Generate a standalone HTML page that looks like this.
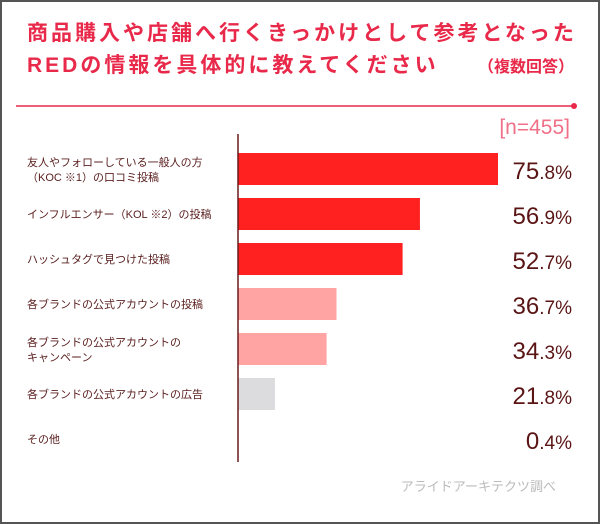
<!DOCTYPE html>
<html><head><meta charset="utf-8"><style>
body{margin:0;background:#fff;font-family:"Liberation Sans","Noto Sans CJK JP",sans-serif}
#wrap{position:relative;width:596px;height:520px;border:2px solid #555;overflow:hidden}
.t{position:absolute;color:#e8294a;font-weight:bold;font-size:21px;letter-spacing:3px;white-space:nowrap}
</style></head><body>
<div id="wrap">
<div class="t" style="left:25px;top:15px">商品購入や店舗へ行くきっかけとして参考となった</div>
<div class="t" style="left:25px;top:47px">REDの情報を具体的に教えてください</div>
<div class="t" style="left:476px;top:51px;font-size:16px;letter-spacing:0">（複数回答）</div>
<svg width="596" height="520" style="position:absolute;left:0;top:0" id="svg">
<line x1="14" y1="104" x2="572" y2="104" stroke="#e8294a" stroke-width="1.5"/>
<circle cx="572" cy="104" r="3" fill="#e8294a"/>
<text x="568" y="132" text-anchor="end" font-size="21" fill="#f07088" font-family="Liberation Sans, sans-serif">[n=455]</text>
<text x="554" y="489" text-anchor="end" font-size="13" fill="#bbb" font-family="Liberation Sans, Noto Sans CJK JP, sans-serif">アライドアーキテクツ調べ</text>
</svg>
</div>
<script>
const categories=[["友人やフォローしている一般人の方","（KOC ※1）の口コミ投稿"],["インフルエンサー（KOL ※2）の投稿"],["ハッシュタグで見つけた投稿"],["各ブランドの公式アカウントの投稿"],["各ブランドの公式アカウントの","キャンペーン"],["各ブランドの公式アカウントの広告"],["その他"]];
const values=[75.8,56.9,52.7,36.7,34.3,21.8,0.4];
const barColors=["#ff2020","#ff2020","#ff2020","#ffa3a3","#ffa3a3","#dcdcdf","#dcdcdf"];
const svg=document.getElementById('svg');const NS='http://www.w3.org/2000/svg';
const x0=236,dMin=12.85,dMax=75.8,wMax=260;
function xScale(v){return Math.max(0,(v-dMin)/(dMax-dMin)*wMax);}
function yScale(i){return 151+i*45;}
function mk(t,a){const e=document.createElementNS(NS,t);for(const k in a)e.setAttribute(k,a[k]);svg.appendChild(e);return e;}
values.forEach((v,i)=>{
const y=yScale(i);
const r=mk('rect',{x:x0,y:y,width:xScale(v),height:32,fill:barColors[i]});


const lines=categories[i];
lines.forEach((l,j)=>{
const t=mk('text',{x:25,y:y+16+(lines.length==1?4:(j==0?-3:12)),'font-size':11,fill:'#5a1e1e','font-family':'Liberation Sans, Noto Sans CJK JP, sans-serif'});
t.textContent=l;


});
const s=v.toFixed(1).split('.');
const vt=mk('text',{x:570,y:y+26,'text-anchor':'end',fill:'#5a1414','font-family':'Liberation Sans, sans-serif','font-size':24});
vt.innerHTML=s[0]+'<tspan font-size="19">.'+s[1]+'%</tspan>';


});
const ax=mk('line',{x1:x0,y1:132,x2:x0,y2:460,stroke:'#6a1a1a','stroke-width':1.5});


</script>
</body></html>
